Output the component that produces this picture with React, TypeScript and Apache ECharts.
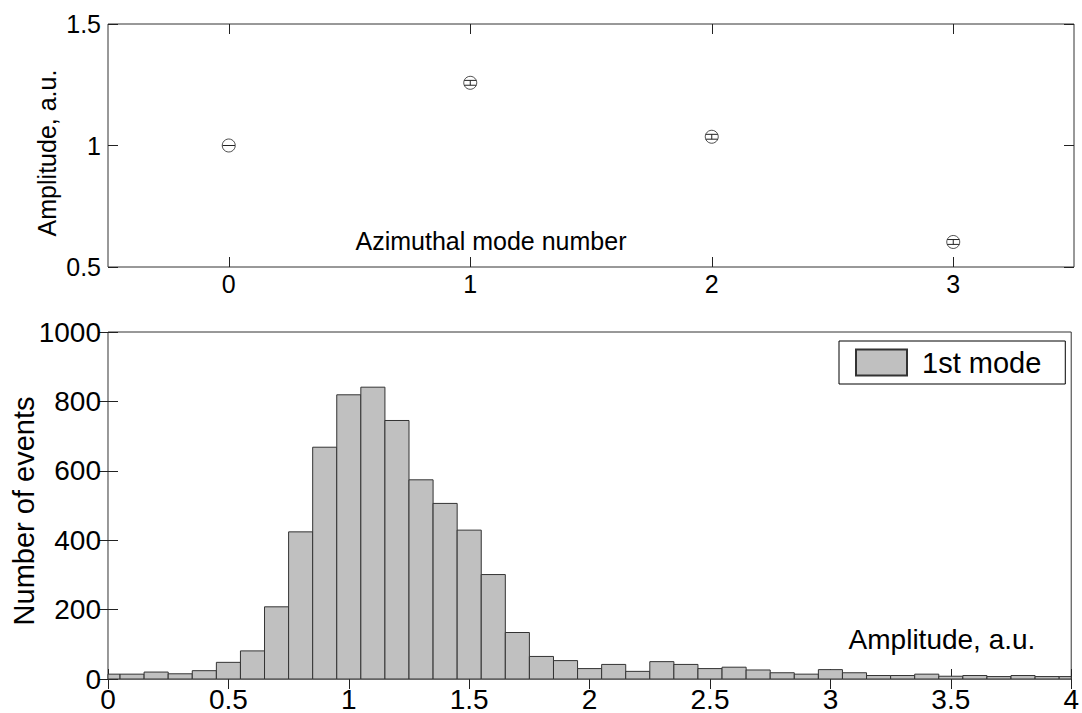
import React, { useEffect, useRef } from 'react';
import * as echarts from 'echarts';

// Top panel: amplitude per azimuthal mode
const modeLabels = ['0', '1', '2', '3'];
const modeAmplitudes = [1.0, 1.258, 1.036, 0.603];
const modeErrors = [0, 0.01, 0.01, 0.01];

// Bottom panel: histogram of 1st mode amplitude (bin centers, counts)
const binCenters = [
  0, 0.1, 0.2, 0.3, 0.4, 0.5, 0.6, 0.7, 0.8, 0.9,
  1.0, 1.1, 1.2, 1.3, 1.4, 1.5, 1.6, 1.7, 1.8, 1.9,
  2.0, 2.1, 2.2, 2.3, 2.4, 2.5, 2.6, 2.7, 2.8, 2.9,
  3.0, 3.1, 3.2, 3.3, 3.4, 3.5, 3.6, 3.7, 3.8, 3.9, 4.0,
];
const binCounts = [
  14, 14, 20, 15, 24, 48, 81, 208, 424, 668,
  819, 841, 745, 574, 506, 429, 301, 134, 65, 53,
  30, 42, 22, 50, 42, 30, 34, 26, 18, 14,
  27, 18, 10, 10, 14, 8, 10, 7, 10, 7, 7,
];
const binWidth = 0.1;

const FONT = 'Liberation Sans, Arial, Helvetica, sans-serif';
const FRAME = '#333';

export default function App() {
  const ref = useRef<HTMLDivElement>(null);

  useEffect(() => {
    document.body.style.margin = '0';
    if (!ref.current) return;
    const chart = echarts.init(ref.current, null, { renderer: 'svg' });

    const tickStyle = { show: true, inside: true, length: 10, lineStyle: { color: '#222', width: 1 } };
    const catTick = { ...tickStyle, alignWithLabel: true, interval: 0 };
    const plain = (v: number) => String(v);

    const option: any = {
      animation: false,
      backgroundColor: '#fff',
      grid: [
        { left: 108, top: 24, width: 966, height: 243, show: true, borderColor: FRAME, borderWidth: 1 },
        { left: 108, top: 332, width: 966, height: 350, show: true, borderColor: FRAME, borderWidth: 1 },
      ],
      xAxis: [
        {
          type: 'category', gridIndex: 0, position: 'bottom', data: modeLabels, boundaryGap: true,
          axisLine: { show: false }, splitLine: { show: false },
          axisTick: catTick,
          axisLabel: { color: '#000', fontSize: 25, fontFamily: FONT, margin: 4, interval: 0 },
        },
        {
          type: 'category', gridIndex: 0, position: 'top', data: modeLabels, boundaryGap: true,
          axisLine: { show: false }, splitLine: { show: false },
          axisTick: catTick,
          axisLabel: { show: false },
        },
        {
          type: 'value', gridIndex: 1, position: 'bottom', min: 0, max: 4, interval: 0.5,
          axisLine: { show: false }, splitLine: { show: false },
          axisTick: tickStyle,
          axisLabel: { color: '#000', fontSize: 28, fontFamily: FONT, margin: 6, formatter: plain },
        },
        {
          type: 'value', gridIndex: 1, position: 'top', min: 0, max: 4, interval: 0.5,
          axisLine: { show: false }, splitLine: { show: false },
          axisTick: tickStyle, axisLabel: { show: false },
        },
      ],
      yAxis: [
        {
          type: 'value', gridIndex: 0, position: 'left', min: 0.5, max: 1.5, interval: 0.5,
          axisLine: { show: false }, splitLine: { show: false },
          axisTick: tickStyle,
          axisLabel: { color: '#000', fontSize: 25, fontFamily: FONT, margin: 7, formatter: plain },
        },
        {
          type: 'value', gridIndex: 0, position: 'right', min: 0.5, max: 1.5, interval: 0.5,
          axisLine: { show: false }, splitLine: { show: false },
          axisTick: tickStyle, axisLabel: { show: false },
        },
        {
          type: 'value', gridIndex: 1, position: 'left', min: 0, max: 1000, interval: 200,
          axisLine: { show: false }, splitLine: { show: false },
          axisTick: tickStyle,
          axisLabel: { color: '#000', fontSize: 28, fontFamily: FONT, margin: 7, formatter: plain },
        },
        {
          type: 'value', gridIndex: 1, position: 'right', min: 0, max: 1000, interval: 200,
          axisLine: { show: false }, splitLine: { show: false },
          axisTick: tickStyle, axisLabel: { show: false },
        },
      ],
      legend: {
        data: [{ name: '1st mode', icon: 'rect' }],
        left: 839, top: 341,
        padding: [7, 24, 7, 16],
        itemWidth: 51, itemHeight: 26, itemGap: 0,
        textStyle: { fontSize: 29, fontFamily: FONT, color: '#000', padding: [0, 0, 0, 10] },
        borderColor: '#000', borderWidth: 1, backgroundColor: '#fff',
        selectedMode: false,
      },
      series: [
        {
          type: 'scatter', name: 'modes', xAxisIndex: 0, yAxisIndex: 0,
          data: modeAmplitudes.map((a, i) => [i, a]),
          symbol: 'circle', symbolSize: 13,
          itemStyle: { color: 'rgba(0,0,0,0)', borderColor: '#222', borderWidth: 1 },
          z: 3,
        },
        {
          type: 'custom', name: 'errors', xAxisIndex: 0, yAxisIndex: 0,
          data: modeAmplitudes.map((a, i) => [i, a, modeErrors[i]]),
          renderItem: (params: any, api: any) => {
            const x = api.value(0);
            const y = api.value(1);
            const e = api.value(2);
            const hi = api.coord([x, y + e]);
            const lo = api.coord([x, y - e]);
            const hw = 6;
            const style = { stroke: '#222', lineWidth: 1 };
            return {
              type: 'group',
              children: [
                { type: 'line', shape: { x1: hi[0], y1: hi[1], x2: lo[0], y2: lo[1] }, style },
                { type: 'line', shape: { x1: hi[0] - hw, y1: hi[1], x2: hi[0] + hw, y2: hi[1] }, style },
                { type: 'line', shape: { x1: lo[0] - hw, y1: lo[1], x2: lo[0] + hw, y2: lo[1] }, style },
              ],
            };
          },
          z: 4,
        },
        {
          type: 'custom', name: '1st mode', xAxisIndex: 2, yAxisIndex: 2,
          itemStyle: { color: '#c0c0c0', borderColor: FRAME, borderWidth: 1 },
          data: binCenters.map((c, i) => [c, binCounts[i]]),
          renderItem: (params: any, api: any) => {
            const c = api.value(0);
            const v = api.value(1);
            const p0 = api.coord([c - binWidth / 2, v]);
            const p1 = api.coord([c + binWidth / 2, 0]);
            const cs = params.coordSys;
            const x0 = Math.max(p0[0], cs.x);
            const x1 = Math.min(p1[0], cs.x + cs.width);
            return {
              type: 'rect',
              shape: { x: x0, y: p0[1], width: x1 - x0, height: p1[1] - p0[1] },
              style: { fill: '#c0c0c0', stroke: FRAME, lineWidth: 1 },
            };
          },
          z: 2,
        },
      ],
      graphic: [
        {
          type: 'text', x: 47, y: 153, rotation: Math.PI / 2,
          style: { text: 'Amplitude, a.u.', fontSize: 25, fontFamily: FONT, fill: '#000', align: 'center', verticalAlign: 'middle' },
        },
        {
          type: 'text', x: 491, y: 241,
          style: { text: 'Azimuthal mode number', fontSize: 25, fontFamily: FONT, fill: '#000', align: 'center', verticalAlign: 'middle' },
        },
        {
          type: 'text', x: 24, y: 511, rotation: Math.PI / 2,
          style: { text: 'Number of events', fontSize: 29, fontFamily: FONT, fill: '#000', align: 'center', verticalAlign: 'middle' },
        },
        {
          type: 'text', x: 942, y: 639,
          style: { text: 'Amplitude, a.u.', fontSize: 28, fontFamily: FONT, fill: '#000', align: 'center', verticalAlign: 'middle' },
        },
      ],
    };

    chart.setOption(option);
    return () => chart.dispose();
  }, []);

  return <div ref={ref} style={{ width: 1082, height: 713 }} />;
}
